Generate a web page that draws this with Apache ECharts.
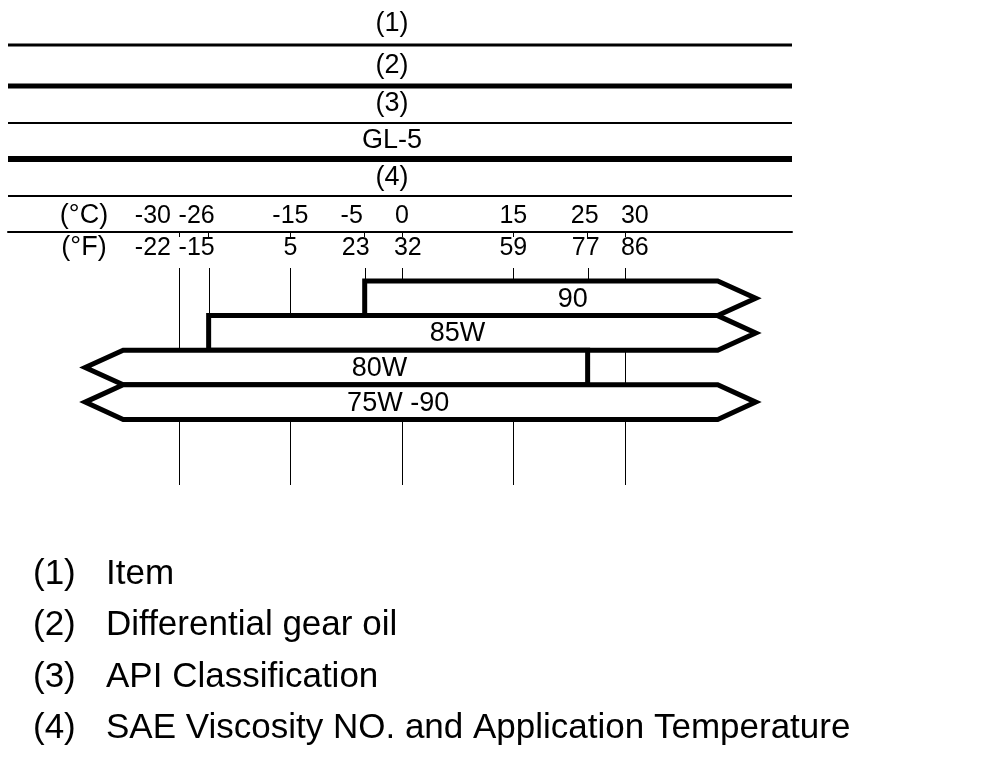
<!DOCTYPE html>
<html><head><meta charset="utf-8">
<script src="https://cdn.jsdelivr.net/npm/echarts@6/dist/echarts.min.js"></script>
<style>html,body{margin:0;padding:0;background:#fff}#c{width:1008px;height:770px}</style>
</head><body><div id="c"></div>
<script>
// ---- data ----
const headerRows = ['(1)', '(2)', '(3)', 'GL-5', '(4)'];
const tempsC = [-30, -26, -15, -5, 0, 15, 25, 30];
const tempsF = [-22, -15, 5, 23, 32, 59, 77, 86];
const majorTemps = [-30, -15, 0, 15, 30];
const minorTemps = [-26, -5, 25];
const grades = ['90', '85W', '80W', '75W -90'];
const gradeLow = [-5, -26, null, null];     // null = open-ended (arrow)
const gradeHigh = [null, null, 25, null];   // null = open-ended (arrow)
const gradeLabelAt = [23, 7.5, -3, -0.5];   // °C where the grade name sits
const legendKeys = ['(1)', '(2)', '(3)', '(4)'];
const legendTexts = ['Item', 'Differential gear oil', 'API Classification', 'SAE Viscosity NO. and Application Temperature'];

// ---- layout / style ----
const X_MIN = -53, X_MAX = 52.5;
const OPEN_LOW = -37.5, OPEN_HIGH = 42.5;
const Y_MIN = -0.376, Y_MAX = 5.896;
const ARROW = 38;
const SANS = '"Liberation Sans", Arial, Helvetica, sans-serif';
const LABEL_FONT = 25;
// horizontal nudges (px) of the tick labels, as printed in the reference
const shiftC = [-26, -12, 0, -13, 0, 0, -3, 10];
const shiftF = [-26, -12, 0, -9, 6, 0, -2, 10];

// label order: start with a label whose neighbour does not overlap, so none is dropped
const labelOrder = [0].concat(tempsC.filter(t => t !== 0));

function richFor(shifts) {
  const r = {};
  shifts.forEach((d, i) => {
    r['s' + i] = { fontSize: LABEL_FONT, fontFamily: SANS, color: '#000',
      padding: [0, Math.max(0, -2 * d), 0, Math.max(0, 2 * d)] };
  });
  return r;
}

const barData = grades.map((g, i) => [
  gradeLow[i] == null ? OPEN_LOW : gradeLow[i],
  gradeHigh[i] == null ? OPEN_HIGH : gradeHigh[i],
  i,
  gradeLow[i] == null ? 1 : 0,
  gradeHigh[i] == null ? 1 : 0,
  gradeLabelAt[i]
]);

function lineRender(endVal) {
  return function (params, api) {
    const x = api.value(0);
    const p1 = api.coord([x, Y_MIN]);
    const p2 = api.coord([x, endVal]);
    const px = Math.round(p1[0]) + 0.5;
    return { type: 'line', shape: { x1: px, y1: p1[1], x2: px, y2: p2[1] },
      style: { stroke: '#000', lineWidth: 1 } };
  };
}

// header table graphics
const headerLines = [[45, 3], [86, 5], [123, 2], [159, 6], [196, 2]];
const headerTextY = [24, 66, 104, 141, 178];
const graphics = [];
headerLines.forEach(l => graphics.push({ type: 'line', shape: { x1: 8, y1: l[0], x2: 792, y2: l[0] }, style: { stroke: '#000', lineWidth: l[1] } }));
headerRows.forEach((t, i) => graphics.push({ type: 'text', x: 392, y: headerTextY[i],
  style: { text: t, font: '27px ' + SANS, fill: '#000', align: 'center', verticalAlign: 'middle' } }));
graphics.push({ type: 'text', x: 84, y: 216, style: { text: '(°C)', font: '27px ' + SANS, fill: '#000', align: 'center', verticalAlign: 'middle' } });
graphics.push({ type: 'text', x: 84, y: 248, style: { text: '(°F)', font: '27px ' + SANS, fill: '#000', align: 'center', verticalAlign: 'middle' } });
const legendY = [574, 625, 677, 728];
legendKeys.forEach((k, i) => {
  graphics.push({ type: 'text', x: 33, y: legendY[i], style: { text: k, font: '35px ' + SANS, fill: '#000', align: 'left', verticalAlign: 'middle' } });
  graphics.push({ type: 'text', x: 106, y: legendY[i], style: { text: legendTexts[i], font: '35px ' + SANS, fill: '#000', align: 'left', verticalAlign: 'middle' } });
});

const chart = echarts.init(document.getElementById('c'), null, { renderer: 'canvas' });
chart.setOption({
  backgroundColor: '#fff',
  animation: false,
  grid: { left: 8, right: 216, top: 268, bottom: 285, containLabel: false },
  xAxis: [
    { type: 'value', min: X_MIN, max: X_MAX, position: 'top', offset: 36,
      axisLine: { show: true, onZero: false, lineStyle: { color: '#000', width: 2 } },
      axisTick: { show: true, inside: true, length: 5, customValues: tempsC, lineStyle: { color: '#000', width: 1 } },
      axisLabel: { show: true, customValues: labelOrder, margin: 3, color: '#000', fontSize: LABEL_FONT, fontFamily: SANS,
        showMinLabel: true, showMaxLabel: true, hideOverlap: false, rich: richFor(shiftC),
        formatter: v => { const i = tempsC.indexOf(v); return i >= 0 ? '{s' + i + '|' + v + '}' : ''; } },
      splitLine: { show: false } },
    { type: 'value', min: X_MIN, max: X_MAX, position: 'top', offset: 36,
      axisLine: { show: false, onZero: false }, axisTick: { show: false },
      axisLabel: { show: true, inside: true, customValues: labelOrder, margin: 4, color: '#000', fontSize: LABEL_FONT, fontFamily: SANS,
        showMinLabel: true, showMaxLabel: true, hideOverlap: false, rich: richFor(shiftF),
        formatter: v => { const i = tempsC.indexOf(v); return i >= 0 ? '{s' + i + '|' + tempsF[i] + '}' : ''; } },
      splitLine: { show: false } }
  ],
  yAxis: { type: 'value', min: Y_MIN, max: Y_MAX, inverse: true, show: false },
  series: [
    { type: 'custom', name: 'major', xAxisIndex: 0, data: majorTemps.map(t => [t]), renderItem: lineRender(Y_MAX), z: 1, silent: true },
    { type: 'custom', name: 'minor', xAxisIndex: 0, data: minorTemps.map(t => [t]), renderItem: lineRender(grades.length), z: 1, silent: true },
    { type: 'custom', name: 'grades', xAxisIndex: 0, data: barData, z: 5, silent: true,
      renderItem: function (params, api) {
        const lo = api.value(0), hi = api.value(1), row = api.value(2);
        const openL = api.value(3), openR = api.value(4), lab = api.value(5);
        const a = api.coord([lo, row]), b = api.coord([hi, row + 1]);
        const x1 = a[0], y1 = a[1], x2 = b[0], y2 = b[1], ym = (y1 + y2) / 2;
        const pts = [[x1, y1], [x2, y1]];
        if (openR) pts.push([x2 + ARROW, ym]);
        pts.push([x2, y2], [x1, y2]);
        if (openL) pts.push([x1 - ARROW, ym]);
        const lx = api.coord([lab, row])[0];
        return { type: 'group', children: [
          { type: 'polygon', shape: { points: pts }, style: { fill: '#fff', stroke: '#000', lineWidth: 5, lineJoin: 'miter' } },
          { type: 'text', x: lx, y: ym + 1, style: { text: grades[params.dataIndex], font: '27px ' + SANS, fill: '#000', align: 'center', verticalAlign: 'middle' } }
        ] };
      } }
  ],
  graphic: graphics
});
</script></body></html>
